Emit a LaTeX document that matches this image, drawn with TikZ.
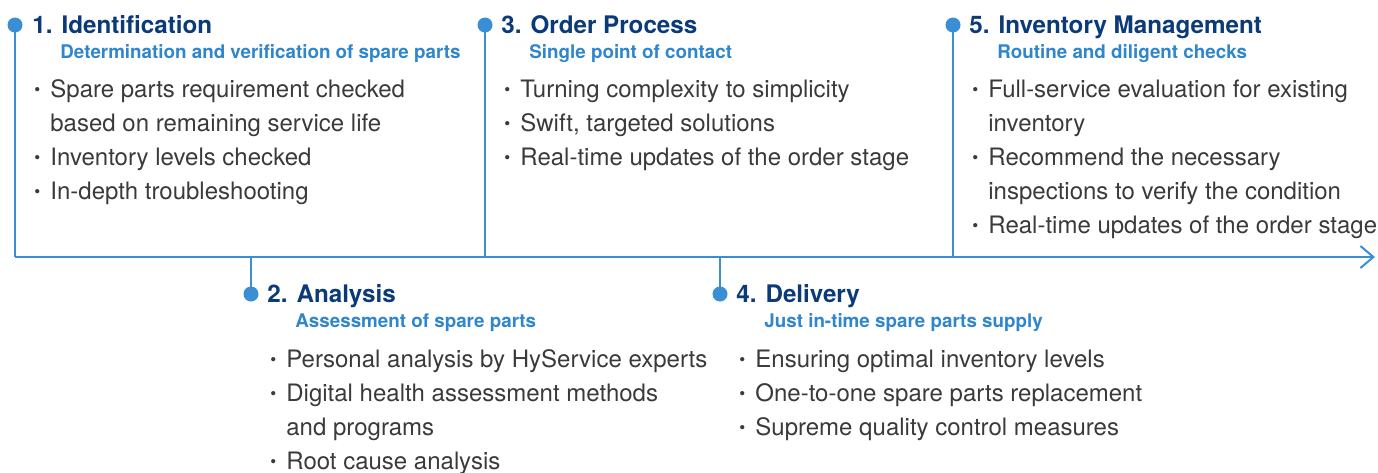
\documentclass[tikz,border=0pt]{standalone}
\usepackage{fontspec}
\setmainfont{TeX Gyre Heros}
\usepackage{xcolor}
\usepackage{tikz}
\usetikzlibrary{arrows.meta,positioning,calc}
\definecolor{navyblue}{HTML}{0B3A78}
\definecolor{subblue}{HTML}{2F86CC}
\definecolor{lineblue}{HTML}{3A8ED3}
\definecolor{textgrey}{HTML}{3A3A3A}
\newcommand\Bul{\raisebox{0.6pt}{\fontsize{8.5}{8.5}\selectfont\textbullet}}
\newcommand\Items[1]{%
  \begin{tabular}[t]{@{}p{8pt}@{}l@{}}#1\end{tabular}}
\tikzset{
  dot/.style={circle,fill=lineblue,minimum size=7.5pt,inner sep=0pt},
  axis/.style={draw=lineblue,line width=1pt},
  title/.style={anchor=base west,inner sep=0pt,text=navyblue,
    font=\fontsize{12.1}{14}\selectfont\bfseries},
  subtitle/.style={anchor=base west,inner sep=0pt,text=subblue,
    font=\fontsize{9.4}{11}\selectfont\bfseries},
  items/.style={anchor=base west,inner sep=0pt,text=textgrey,
    font=\fontsize{12}{17}\selectfont},
}

\begin{document}
\begin{tikzpicture}[x=0.5pt,y=-0.5pt]
  \useasboundingbox (0,0) rectangle (1378,472);

  % Dots on the time line
  \node (d1) [dot] at (15,25) {};
  \node (d2) [dot] at (251,294) {};
  \node (d3) [dot] at (485,25) {};
  \node (d4) [dot] at (720,294) {};
  \node (d5) [dot] at (953,25) {};
  \coordinate (axisend) at (1375,257);

  \draw [axis] (d1.center) -- (d1 |- axisend);
  \draw [axis] (d3.center) -- (d3 |- axisend);
  \draw [axis] (d5.center) -- (d5 |- axisend);
  \draw [axis] (d2 |- axisend) -- (d2.center);
  \draw [axis] (d4 |- axisend) -- (d4.center);
  \draw [axis,-{Straight Barb[length=6.5pt,width=11pt]}] (d1 |- axisend) -- (axisend);

  % 1. Identification
  \node (t1) [title] at ([xshift=8.5pt,yshift=-4pt]d1.center) {1. Identification};
  \node (s1) [subtitle] at ([xshift=22.5pt,yshift=-16.5pt]d1.center)
  {Determination and verification of spare parts};
  \node (i1) [items] at ([xshift=9.5pt,yshift=-36pt]d1.center) {\Items{
      \Bul & Spare parts requirement checked\\
           & based on remaining service life\\
      \Bul & Inventory levels checked\\
      \Bul & In-depth troubleshooting}};

  % 2. Analysis
  \node (t2) [title] at ([xshift=8pt,yshift=-4pt]d2.center) {2. Analysis};
  \node (s2) [subtitle] at ([xshift=22pt,yshift=-16.5pt]d2.center)
  {Assessment of spare parts};
  \node (i2) [items] at ([xshift=9.5pt,yshift=-36.5pt]d2.center) {\Items{
      \Bul & Personal analysis by HyService experts\\
      \Bul & Digital health assessment methods\\
           & and programs\\
      \Bul & Root cause analysis}};

  % 3. Order Process
  \node (t3) [title] at ([xshift=8pt,yshift=-4pt]d3.center) {3. Order Process};
  \node (s3) [subtitle] at ([xshift=22pt,yshift=-16.5pt]d3.center)
  {Single point of contact};
  \node (i3) [items] at ([xshift=9.5pt,yshift=-36pt]d3.center) {\Items{
      \Bul & Turning complexity to simplicity\\
      \Bul & Swift, targeted solutions\\
      \Bul & Real-time updates of the order stage}};

  % 4. Delivery
  \node (t4) [title] at ([xshift=8pt,yshift=-4pt]d4.center) {4. Delivery};
  \node (s4) [subtitle] at ([xshift=22pt,yshift=-16.5pt]d4.center)
  {Just in-time spare parts supply};
  \node (i4) [items] at ([xshift=9.5pt,yshift=-36.5pt]d4.center) {\Items{
      \Bul & Ensuring optimal inventory levels\\
      \Bul & One-to-one spare parts replacement\\
      \Bul & Supreme quality control measures}};

  % 5. Inventory Management
  \node (t5) [title] at ([xshift=8pt,yshift=-4pt]d5.center) {5. Inventory Management};
  \node (s5) [subtitle] at ([xshift=22pt,yshift=-16.5pt]d5.center)
  {Routine and diligent checks};
  \node (i5) [items] at ([xshift=9.5pt,yshift=-36pt]d5.center) {\Items{
      \Bul & Full-service evaluation for existing\\
           & inventory\\
      \Bul & Recommend the necessary\\
           & inspections to verify the condition\\
      \Bul & Real-time updates of the order stage}};

\end{tikzpicture}
\end{document}
